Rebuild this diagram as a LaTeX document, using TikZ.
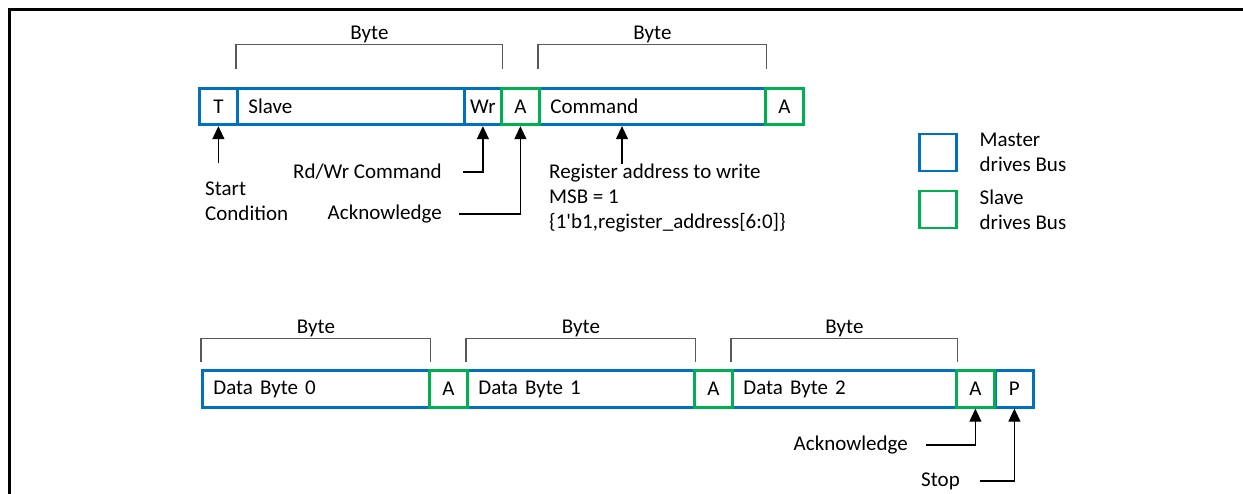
\documentclass[tikz,border=0pt]{standalone}
\usepackage{fontspec}
\setmainfont{Carlito}
\usepackage{tikz}
\usetikzlibrary{arrows.meta,positioning}
\definecolor{masterblue}{HTML}{0070C0}
\definecolor{slavegreen}{HTML}{00B050}

\begin{document}
\begin{tikzpicture}[x=1pt,y=-1pt,font=\fontsize{21}{25}\selectfont,
	field/.style={draw=masterblue,line width=2.8pt,minimum height=36.5pt,inner sep=0pt,anchor=west},
	wide/.style={field,text width=#1,inner xsep=11pt,align=left},
	bit/.style={field,minimum width=38pt},
	ackbit/.style={bit,draw=slavegreen},
	keybox/.style={field,minimum width=37pt,minimum height=37pt,line width=2.5pt},
	note/.style={inner sep=0pt,align=left},
	bracket/.style={draw=black!65,line width=1.3pt},
	pointer/.style={line width=1.2pt,-{Triangle[length=13pt,width=12pt]}}]
\useasboundingbox (0,0) rectangle (1243,494);
\draw[line width=3pt] (9,494) -- (9,10) -- (1243,10);

\begin{scope}
	\node[bit] (t) at (198,106.5) {T};
	\node[wide=205pt] (slave) at (236,106.5) {Slave};
	\node[bit,minimum width=37pt] (wr) at (463,106.5) {Wr};
	\node[wide=204pt] (cmd) at (538,106.5) {Command};
	\node[ackbit] (ack1) at (500,106.5) {A};
	\node[ackbit] (ack2) at (764,106.5) {A};

	\node[wide=205pt] (db0) at (201,389) {Data Byte 0};
	\node[wide=205pt] (db1) at (466,389) {Data Byte 1};
	\node[wide=202pt] (db2) at (731,389) {Data Byte 2};
	\node[bit] (p) at (994,389) {P};
	\node[ackbit] (ack3) at (428,389) {A};
	\node[ackbit] (ack4) at (693,389) {A};
	\node[ackbit] (ack5) at (955,389) {A};

	\node[keybox] (masterkey) at (918,152.5) {};
	\node[keybox,draw=slavegreen] (slavekey) at (918,209.5) {};
	\node[note,right=22pt of masterkey] (mastertext) {Master\\drives Bus};
	\node[note,right=22pt of slavekey] (slavetext) {Slave\\drives Bus};

	\node[note,anchor=north west] (startc) at (205,181.5) {Start\\Condition};
	\node[note,anchor=east] (rdwr) at (442,172) {Rd/Wr Command};
	\node[note,anchor=east] (ackt) at (442,214) {Acknowledge};
	\node[note,anchor=north west] (reg) at (549,164) {Register address to write\\MSB = 1\\\{1\textquotesingle b1,register\_address[6:0]\}};
	\node[note,anchor=east] (ackb) at (908,445) {Acknowledge};
	\node[note,anchor=east] (stop) at (960,481) {Stop};
\end{scope}

\begin{scope}
	\draw[bracket] ([yshift=18pt]slave.north west) |- node[pos=0.75,above,inner sep=1pt] {Byte} ([yshift=42pt]wr.north east) -- ([yshift=18pt]wr.north east);
	\draw[bracket] ([yshift=18pt]cmd.north west) |- node[pos=0.75,above,inner sep=1pt] {Byte} ([yshift=42pt]cmd.north east) -- ([yshift=18pt]cmd.north east);
	\draw[bracket] ([yshift=7pt]db0.north west) |- node[pos=0.75,above,inner sep=1pt] {Byte} ([yshift=31pt]db0.north east) -- ([yshift=7pt]db0.north east);
	\draw[bracket] ([yshift=7pt]db1.north west) |- node[pos=0.75,above,inner sep=1pt] {Byte} ([yshift=31pt]db1.north east) -- ([yshift=7pt]db1.north east);
	\draw[bracket] ([yshift=7pt]db2.north west) |- node[pos=0.75,above,inner sep=1pt] {Byte} ([yshift=31pt]db2.north east) -- ([yshift=7pt]db2.north east);

	\draw[pointer] ([yshift=18pt]startc.north -| t.south) -- (t.south);
	\draw[pointer] ([xshift=21pt]rdwr.east) -| (wr.south);
	\draw[pointer] ([xshift=17pt]ackt.east) -| (ack1.south);
	\draw[pointer] ([xshift=73pt]reg.north west) -- ([xshift=73pt]reg.north west |- cmd.south);
	\draw[pointer] ([xshift=18pt]ackb.east) -| (ack5.south);
	\draw[pointer] ([xshift=20pt]stop.east) -| (p.south);
\end{scope}

\end{tikzpicture}
\end{document}
